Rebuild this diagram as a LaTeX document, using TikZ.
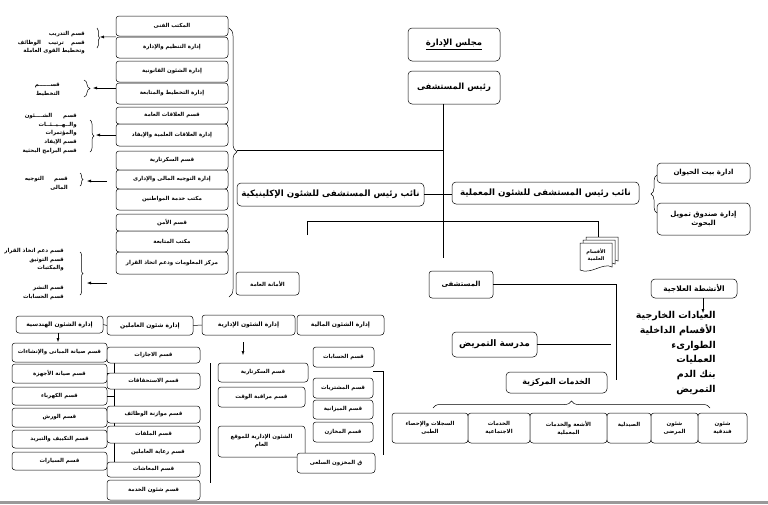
\documentclass[tikz,border=0pt]{standalone}
\usepackage{fontspec}
\usepackage{tikz}
\usetikzlibrary{arrows.meta, positioning, decorations.pathreplacing, calc}
\newfontfamily\arabicfont[Script=Arabic]{DejaVu Sans}
\TeXXeTstate=1
\newcommand{\ar}[1]{{\arabicfont\beginR #1\endR}}
\newcommand{\arj}[2]{\makebox[#1][s]{\arabicfont #2}}
\tikzset{
  unit/.style={draw, rounded corners=3pt, fill=white, inner sep=1pt, align=center,
    font=\fontsize{5.5}{6.5}\arabicfont\bfseries},
  bigunit/.style={unit, rounded corners=4pt, font=\fontsize{8.5}{10}\arabicfont\bfseries},
  sidenote/.style={inner sep=0pt, align=right, anchor=north east,
    font=\fontsize{5.5}{8.7}\arabicfont\bfseries},
  arr/.style={-{Latex[length=4pt,width=3pt]}},
  brc/.style={decorate, decoration={brace, amplitude=#1}},
  brc/.default=4pt,
}
\newcommand{\orgbox}[7][]{%
  \node[unit, minimum width={(#5-#3)*1pt}, minimum height={(#6-#4)*1pt}, #1]
    (#2) at ({(#3+#5)/2},{(#4+#6)/2}) {#7};%
}

\begin{document}
\begin{tikzpicture}[x=1pt, y=-1pt, line width=0.5pt]
  \useasboundingbox (0,0) rectangle (768,504);
  \fill[black!40] (0,501) rectangle (768,504);

  % left column of offices
  \orgbox{b1}{116}{16}{228}{36}{\ar{المكتب الفنى}}
  \orgbox{b2}{116}{37}{228}{58}{\ar{إدارة التنظيم والإدارة}}
  \orgbox{b3}{116}{61}{228}{82}{\ar{إدارة الشئون القانونية}}
  \orgbox{b4}{116}{83}{228}{104}{\ar{إدارة التخطيط والمتابعة}}
  \orgbox{b5}{116}{107}{228}{124}{\ar{قسم العلاقات العامة}}
  \orgbox{b6}{116}{124}{228}{146}{\ar{إدارة العلاقات العلمية والإيفاد}}
  \orgbox{b7}{116}{151}{228}{170}{\ar{قسم السكرتارية}}
  \orgbox{b8}{116}{170}{228}{189}{\ar{إدارة التوجيه المالى والإدارى}}
  \orgbox{b9}{116}{189}{228}{210}{\ar{مكتب خدمة المواطنين}}
  \orgbox{b10}{116}{214}{228}{231}{\ar{قسم الأمن}}
  \orgbox{b11}{116}{231}{228}{252}{\ar{مكتب المتابعة}}
  \orgbox{b12}{116}{252}{228}{274}{\ar{مركز المعلومات ودعم اتخاذ القرار}}

  % side notes with braces
  \coordinate (t1) at (100,37);
  \coordinate (t2) at (93,88);
  \coordinate (t3) at (96,135);
  \coordinate (a4) at (107,181);
  \coordinate (t4) at (87,181);
  \coordinate (a5) at (107,283);
  \coordinate (t5) at (87,283);
  \draw[brc=2.5pt] (97,28) -- (97,48);
  \draw[brc=6pt] (84,80) -- (84,97);
  \draw[brc=4pt] (90,120) -- (90,152);
  \draw[brc=3pt] (80,173) -- (80,186);
  \draw[brc=3pt] (80,252) -- (80,295);
  \draw[arr] (b2.north west) -- (t1);
  \draw[arr] (b4.west |- t2) -- (t2);
  \draw[arr] (b6.west) -- (t3);
  \draw[arr] (a4) -- (t4);
  \draw[arr] (a5) -- (t5);
  \node[sidenote] (n1) at (85,31) {\ar{قسم التدريب}\\\arj{67pt}{\beginR قسم ترتيب الوظائف\endR}\\\ar{وتخطيط القوى العاملة}};
  \node[sidenote] (n2) at (60,83) {\ar{قســــــم}\\\ar{التخطيط}};
  \node[sidenote] (n3) at (77,113) {\arj{52pt}{\beginR قسم الشــــئون\endR}\\\ar{والــهــيــئــات}\\\ar{والمؤتمرات}\\\ar{قسم الإيفاد}\\\ar{قسم البرامج البحثية}};
  \node[sidenote] (n4) at (68,176) {\arj{43pt}{\beginR قسم التوجيه\endR}\\\ar{المالى}};
  \node[sidenote] (n5) at (64,248) {\ar{قسم دعم اتخاذ القرار}\\\ar{قسم التوثيق}\\\ar{والمكتبات}};
  \node[sidenote] (n6) at (64,285) {\ar{قسم النشر}\\\ar{قسم الحسابات}};

  % big brace
  \draw[decorate, decoration={brace, amplitude=8pt, aspect=0.46}] (229,28) -- (229,297);
  \coordinate (bt) at (237,150);

  % top management
  \orgbox[bigunit]{board}{408}{28}{500}{61}{\underline{\ar{مجلس الإدارة}}}
  \orgbox[bigunit]{ceo}{408}{71}{500}{104}{\ar{رئيس المستشفى}}
  \coordinate (spine) at (443,258);
  \draw (ceo.south -| spine) -- (spine);
  \draw (bt) -- (bt -| spine);
  \orgbox[bigunit, font=\fontsize{8.7}{10}\arabicfont\bfseries]{clin}{237}{183}{424}{206}{\ar{نائب رئيس المستشفى للشئون الإكلينيكية}}
  \orgbox[bigunit, font=\fontsize{8.7}{10}\arabicfont\bfseries]{lab}{452}{182}{639}{204}{\ar{نائب رئيس المستشفى للشئون المعملية}}
  \draw (clin.east) -- (clin.east -| lab.west);
  \orgbox{gensec}{236}{272}{299}{295}{\ar{الأمانة العامة}}
  \orgbox[font=\fontsize{7}{8}\arabicfont\bfseries]{hosp}{429}{271}{493}{298}{\ar{المستشفى}}

  % scientific departments
  \coordinate (sciend) at (307,235);
  \coordinate (docstop) at (598,237);
  \draw (sciend) -- (307,221) -| (docstop);
  \foreach \d in {6,3,0} {
    \filldraw[fill=white] (580+\d,243-\d) -- (612+\d,243-\d) -- (612+\d,267-\d)
      .. controls (603+\d,262-\d) and (591+\d,275-\d) .. (580+\d,270-\d) -- cycle;
  }
  \node[font=\fontsize{5}{6.5}\arabicfont\bfseries, align=center] (docs) at (596,255) {\ar{الأقسام}\\\ar{العلمية}};

  % research units
  \orgbox[bigunit, font=\fontsize{7}{8}\arabicfont\bfseries]{animal}{657}{163}{750}{183}{\ar{ادارة بيت الحيوان}}
  \orgbox[bigunit, font=\fontsize{7}{9}\arabicfont\bfseries]{fund}{657}{203}{750}{235}{\ar{إدارة صندوق تمويل}\\\ar{البحوث}}
  \draw[brc=6pt] (657,213) -- (657,175);

  % hospital side
  \coordinate (hospbar) at (616,380);
  \draw (hosp.east) -| (hospbar);
  \orgbox[bigunit, font=\fontsize{9}{10}\arabicfont\bfseries]{nurse}{452}{332}{537}{357}{\ar{مدرسة التمريض}}
  \draw (nurse.east) -- ++(74,0);
  \orgbox[bigunit, font=\fontsize{8}{9}\arabicfont\bfseries]{central}{506}{372}{607}{393}{\ar{الخدمات المركزية}}
  \draw[brc=7pt] (433,408) -- (710,408);
  \orgbox[font=\fontsize{5.5}{8}\arabicfont\bfseries]{rec}{392}{413}{468}{443}{\ar{السجلات والإحصاء}\\\ar{الطبى}}
  \orgbox[font=\fontsize{5.5}{8}\arabicfont\bfseries]{soc}{468}{413}{530}{443}{\ar{الخدمات}\\\ar{الاجتماعية}}
  \orgbox[font=\fontsize{5.5}{8}\arabicfont\bfseries]{rad}{530}{413}{607}{443}{\ar{الأشعة والخدمات}\\\ar{المعملية}}
  \orgbox[font=\fontsize{5.5}{8}\arabicfont\bfseries]{pha}{607}{413}{651}{443}{\ar{الصيدلية}\\~}
  \orgbox[font=\fontsize{5.5}{8}\arabicfont\bfseries]{pat}{651}{413}{698}{443}{\ar{شئون}\\\ar{المرضى}}
  \orgbox[font=\fontsize{5.5}{8}\arabicfont\bfseries]{hot}{698}{413}{747}{443}{\ar{شئون}\\\ar{فندقية}}

  % therapeutic activities
  \orgbox[bigunit, font=\fontsize{7.5}{9}\arabicfont\bfseries]{thera}{651}{279}{737}{298}{\ar{الأنشطة العلاجية}}
  \coordinate (listtop) at (703,313);
  \draw[arr] (thera.south -| listtop) -- (listtop);
  \node[inner sep=0pt, align=right, anchor=north east, font=\fontsize{9.5}{14.8}\arabicfont\bfseries]
    (acts) at (716,311) {\ar{العيادات الخارجية}\\\ar{الأقسام الداخلية}\\\ar{الطوارىء}\\\ar{العمليات}\\\ar{بنك الدم}\\\ar{التمريض}};

  % bottom row of directorates
  \orgbox[font=\fontsize{6}{7}\arabicfont\bfseries]{eng}{16}{316}{103}{333}{\ar{إدارة الشئون الهندسية}}
  \orgbox[font=\fontsize{6}{7}\arabicfont\bfseries]{staff}{107}{316}{193}{335}{\ar{إدارة شئون العاملين}}
  \orgbox[font=\fontsize{6}{7}\arabicfont\bfseries]{adm}{202}{315}{295}{335}{\ar{إدارة الشئون الإدارية}}
  \orgbox[font=\fontsize{6}{7}\arabicfont\bfseries]{fin}{297}{315}{384}{335}{\ar{إدارة الشئون المالية}}
  \draw (eng.east) -- (staff.west);
  \draw (staff.east) -- (adm.west);
  \coordinate (engdown) at (58,342);
  \draw[arr] (eng.south -| engdown) -- (engdown);

  % engineering
  \orgbox{e1}{12}{343}{107}{362}{\ar{قسم صيانة المبانى والإنشاءات}}
  \orgbox{e2}{12}{364}{107}{383}{\ar{قسم صيانة الأجهزة}}
  \orgbox{e3}{12}{387}{107}{405}{\ar{قسم الكهرباء}}
  \orgbox{e4}{12}{408}{107}{427}{\ar{قسم الورش}}
  \orgbox{e5}{12}{430}{107}{448}{\ar{قسم التكييف والتبريد}}
  \orgbox{e6}{12}{452}{107}{470}{\ar{قسم السيارات}}
  \coordinate (ev1) at (114,363);
  \coordinate (ev2) at (114,468);
  \draw (ev1) -- (ev2);
  \draw (e2.east) -- (e2.east -| ev1);
  \draw (e3.east) -- (e3.east -| ev1);

  % personnel
  \orgbox{s1}{107}{347}{200}{363}{\ar{قسم الاجازات}}
  \orgbox{s2}{107}{373}{200}{389}{\ar{قسم الاستحقاقات}}
  \orgbox{s3}{107}{406}{200}{423}{\ar{قسم موازنة الوظائف}}
  \orgbox{s4}{107}{426}{200}{443}{\ar{قسم الملفات}}
  \orgbox[draw=none, fill=none]{s5}{116}{444}{200}{460}{\ar{قسم رعاية العاملين}}
  \orgbox{s6}{107}{462}{200}{477}{\ar{قسم المعاشات}}
  \orgbox{s7}{107}{480}{200}{500}{\ar{قسم شئون الخدمة}}

  % administration
  \coordinate (admtop) at (243,342);
  \coordinate (admdown) at (243,355);
  \draw[arr] (admtop) -- (admdown);
  \coordinate (av1) at (210,363);
  \coordinate (av2) at (210,483);
  \draw (av1) -- (av2);
  \orgbox{a1}{218}{363}{308}{382}{\ar{قسم السكرتارية}}
  \orgbox{a2}{218}{387}{305}{407}{\ar{قسم مراقبة الوقت}}
  \orgbox[font=\fontsize{5.5}{8}\arabicfont\bfseries]{a3}{218}{426}{305}{457}{\ar{الشئون الإدارية للموقع}\\\ar{العام}}

  % finance
  \coordinate (fv1) at (383,371);
  \coordinate (fv2) at (383,455);
  \draw (373,371) -- (fv1) -- (fv2);
  \orgbox{f1}{313}{347}{374}{367}{\ar{قسم الحسابات}}
  \orgbox{f2}{313}{378}{373}{398}{\ar{قسم المشتريات}}
  \orgbox{f3}{313}{400}{373}{419}{\ar{قسم الميزانية}}
  \orgbox{f4}{313}{422}{373}{442}{\ar{قسم المخازن}}
  \orgbox{f5}{297}{453}{375}{473}{\ar{ق المخزون السلعى}}
\end{tikzpicture}
\end{document}
